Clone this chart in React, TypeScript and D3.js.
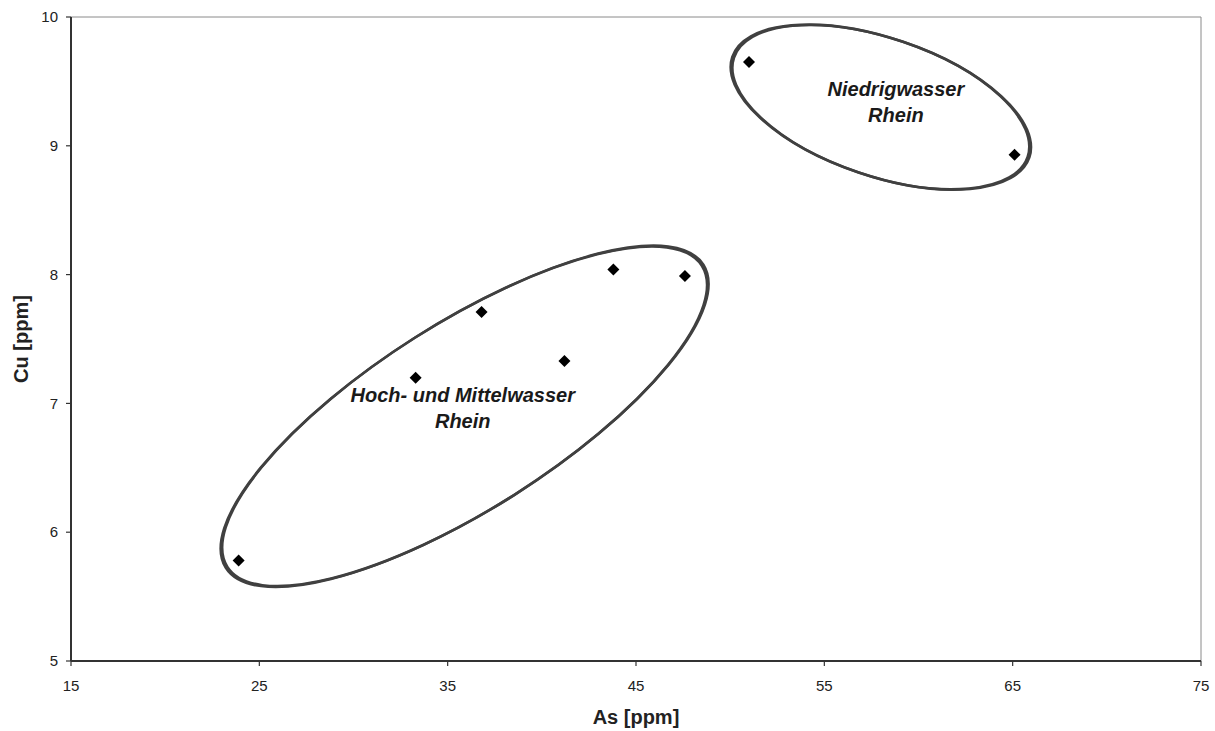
import React from "react";
import * as d3 from "d3";

// --- Data ---
const AS_VALUES = [23.9, 33.3, 36.8, 41.2, 43.8, 47.6, 51.0, 65.1];
const CU_VALUES = [5.78, 7.2, 7.71, 7.33, 8.04, 7.99, 9.65, 8.93];
const X_TICKS = [15, 25, 35, 45, 55, 65, 75];
const Y_TICKS = [5, 6, 7, 8, 9, 10];

// group ellipses: centre in data units
const GROUP_CENTERS_AS = [35.9, 58.0];
const GROUP_CENTERS_CU = [6.9, 9.3];
const GROUP_LABELS = [
  ["Hoch- und Mittelwasser", "Rhein"],
  ["Niedrigwasser", "Rhein"],
];
const LABEL_AS = [35.8, 58.8];
const LABEL_CU = [7.01, 9.39];

const W = 1215;
const H = 731;
const M = { left: 71, right: 14, top: 17, bottom: 70 };
const FONT = "'Liberation Sans', Arial, sans-serif";

export default function App() {
  const x = d3.scaleLinear().domain([15, 75]).range([M.left, W - M.right]);
  const y = d3.scaleLinear().domain([5, 10]).range([H - M.bottom, M.top]);

  const diamond = d3.symbol().type(d3.symbolSquare).size(72)() || "";

  // semi axes in px, rotation in degrees
  const ellipseShape = [
    { rx: 281, ry: 93, rot: -32.4 },
    { rx: 155, ry: 69, rot: 18.7 },
  ];

  return (
    <div style={{ position: "fixed", left: 0, top: 0 }}>
      <svg width={W} height={H} style={{ display: "block", background: "#fff" }}>
        {/* frame: light top/right */}
        <line x1={x(15)} x2={x(75)} y1={y(10)} y2={y(10)} stroke="#8a8a8a" strokeWidth={1} />
        <line x1={x(75)} x2={x(75)} y1={y(10)} y2={y(5)} stroke="#8a8a8a" strokeWidth={1} />

        {/* axes */}
        <line x1={x(15)} x2={x(15)} y1={y(10)} y2={y(5)} stroke="#333" strokeWidth={2} />
        <line x1={x(15)} x2={x(75)} y1={y(5)} y2={y(5)} stroke="#333" strokeWidth={2} />

        {Y_TICKS.map((t) => (
          <g key={"y" + t}>
            <line x1={x(15) - 5} x2={x(15)} y1={y(t)} y2={y(t)} stroke="#333" strokeWidth={1.2} />
            <text
              x={x(15) - 13}
              y={y(t)}
              dy="0.35em"
              textAnchor="end"
              fontFamily={FONT}
              fontSize={15}
              fill="#222"
            >
              {t}
            </text>
          </g>
        ))}
        {X_TICKS.map((t) => (
          <g key={"x" + t}>
            <line x1={x(t)} x2={x(t)} y1={y(5)} y2={y(5) + 5} stroke="#333" strokeWidth={1.2} />
            <text
              x={x(t)}
              y={y(5) + 30}
              textAnchor="middle"
              fontFamily={FONT}
              fontSize={15}
              fill="#222"
            >
              {t}
            </text>
          </g>
        ))}

        {/* axis titles */}
        <text
          x={(x(15) + x(75)) / 2}
          y={724}
          textAnchor="middle"
          fontFamily={FONT}
          fontWeight="bold"
          fontSize={20}
          fill="#222"
        >
          As [ppm]
        </text>
        <text
          transform={`translate(28, ${(y(5) + y(10)) / 2}) rotate(-90)`}
          textAnchor="middle"
          fontFamily={FONT}
          fontWeight="bold"
          fontSize={20}
          fill="#222"
        >
          Cu [ppm]
        </text>

        {/* group ellipses (second pass slightly wider → thicker ends, like a hand-drawn ring) */}
        {ellipseShape.map((e, i) => (
          <g
            key={"e" + i}
            transform={`translate(${x(GROUP_CENTERS_AS[i])}, ${y(GROUP_CENTERS_CU[i])}) rotate(${e.rot})`}
            fill="none"
            stroke="#404040"
          >
            <ellipse cx={0} cy={0} rx={e.rx} ry={e.ry} strokeWidth={2.6} />
            <ellipse cx={0} cy={0} rx={e.rx + 1.8} ry={e.ry} strokeWidth={2.6} />
          </g>
        ))}

        {/* group labels */}
        {GROUP_LABELS.map((lines, i) => (
          <text
            key={"l" + i}
            x={x(LABEL_AS[i])}
            y={y(LABEL_CU[i])}
            textAnchor="middle"
            fontFamily={FONT}
            fontWeight="bold"
            fontStyle="italic"
            fontSize={20}
            fill="#1a1a1a"
          >
            {lines.map((ln, j) => (
              <tspan key={j} x={x(LABEL_AS[i])} dy={j === 0 ? 0 : 26}>
                {ln}
              </tspan>
            ))}
          </text>
        ))}

        {/* points */}
        {AS_VALUES.map((a, i) => (
          <path
            key={"p" + i}
            d={diamond}
            transform={`translate(${x(a)}, ${y(CU_VALUES[i])}) rotate(45)`}
            fill="#000"
          />
        ))}
      </svg>
    </div>
  );
}
